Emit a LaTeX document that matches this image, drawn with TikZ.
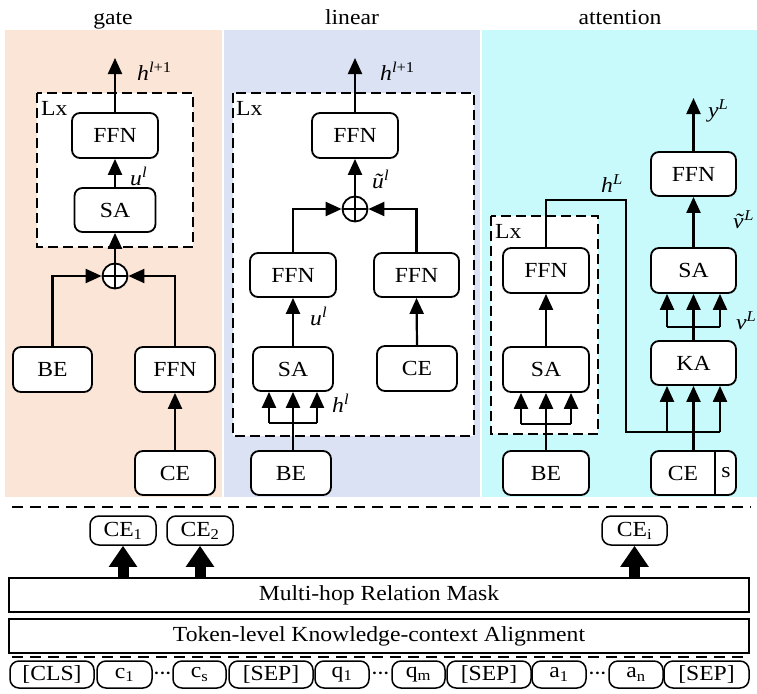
\documentclass[tikz,border=0pt]{standalone}
\usepackage{fontspec}
\setmainfont[FakeStretch=1.1]{Liberation Serif}
\usetikzlibrary{arrows.meta,calc}
\definecolor{gatebg}{RGB}{251,229,214}
\definecolor{linbg}{RGB}{218,226,243}
\definecolor{attbg}{RGB}{200,250,252}
\begin{document}
\begin{tikzpicture}[x=1pt,y=-1pt,
 font=\fontsize{21.5}{24}\selectfont,
 blk/.style={draw,line width=1.8pt,rounded corners=8pt,fill=white,inner sep=0pt},
 ln/.style={line width=2.2pt},
 arr/.style={line width=2.2pt,-{Triangle[width=14pt,length=16pt]}},
 lxbox/.style={draw,line width=2pt,dash pattern=on 10pt off 5pt,fill=white},
 oplus/.style={draw,line width=1.8pt,circle,fill=white,minimum size=25pt,inner sep=0pt,
   path picture={\draw[line width=1.5pt] (path picture bounding box.north) -- (path picture bounding box.south) (path picture bounding box.west) -- (path picture bounding box.east);}},
 tok/.style={draw,line width=1.5pt,rounded corners=9pt,inner sep=0pt,minimum height=27pt},
 lab/.style={inner sep=0pt},
 fat/.style={line width=11pt,-{Triangle[width=27pt,length=21pt]}},
 sep/.style={line width=1.3pt,dash pattern=on 11pt off 7pt},
]
\useasboundingbox (0,0) rectangle (757,693);
% panels
\fill[gatebg] (5,30) rectangle (222,497);
\fill[linbg] (224,30) rectangle (480,497);
\fill[attbg] (482,30) rectangle (757,497);
\node[lab,anchor=base] (t_gate) at (113,25) {gate};
\node[lab,anchor=base] (t_lin) at (352,25) {linear};
\node[lab,anchor=base] (t_att) at (620,25) {attention};

% ---------------- gate
\draw[lxbox] (37,93) rectangle (193,247);
\node[lab,anchor=base west] (g_lxt) at (41,115) {Lx};
\node[blk,minimum width=86pt,minimum height=45pt] (g_ffn) at (115,135.5) {FFN};
\node[blk,minimum width=81pt,minimum height=44pt] (g_sa) at (115,210) {SA};
\node[oplus] (g_plus) at (115,276) {};
\node[blk,minimum width=79pt,minimum height=45pt] (g_be) at (52.5,369.5) {BE};
\node[blk,minimum width=80pt,minimum height=45pt] (g_ffn2) at (175,369.5) {FFN};
\node[blk,minimum width=80pt,minimum height=44pt] (g_ce) at (175,473) {CE};
\coordinate (g_top) at (115,58);
\draw[arr] (g_ffn.north) -- (g_top);
\draw[arr] (g_sa.north) -- (g_ffn.south);
\draw[arr] (g_plus.north) -- (g_sa.south);
\draw[arr] (g_be.north) |- (g_plus.west);
\draw[arr] (g_ffn2.north) |- (g_plus.east);
\draw[arr] (g_ce.north) -- (g_ffn2.south);
\node[lab,anchor=base west] (g_h) at (137,80) {\textit{h}\textsuperscript{\textit{l}+1}};
\node[lab,anchor=base west] (g_u) at (130,185) {\textit{u}\textsuperscript{\textit{l}}};

% ---------------- linear
\draw[lxbox] (233,93) rectangle (474,436);
\node[lab,anchor=base west] (l_lxt) at (236,115) {Lx};
\node[blk,minimum width=86pt,minimum height=45pt] (l_ffn) at (355,135.5) {FFN};
\node[oplus] (l_plus) at (355,209) {};
\node[blk,minimum width=86pt,minimum height=44pt] (l_ffnL) at (293,275) {FFN};
\node[blk,minimum width=85pt,minimum height=44pt] (l_ffnR) at (416.5,275) {FFN};
\node[blk,minimum width=80pt,minimum height=44pt] (l_sa) at (293,369) {SA};
\node[blk,minimum width=80pt,minimum height=45pt] (l_ce) at (417,368.5) {CE};
\node[blk,minimum width=80pt,minimum height=44pt] (l_be) at (291,473) {BE};
\coordinate (l_top) at (355,58);
\coordinate (l_bar) at (293,423);
\draw[arr] (l_ffn.north) -- (l_top);
\draw[arr] (l_plus.north) -- (l_ffn.south);
\draw[arr] (l_ffnL.north) |- (l_plus.west);
\draw[arr] (l_ffnR.north) |- (l_plus.east);
\draw[arr] (l_sa.north) -- (l_ffnL.south);
\draw[arr] (l_ce.north) -- (l_ffnR.south);
\draw[ln] (l_be.north -| l_bar) -- (l_bar);
\draw[ln] ([xshift=-24pt]l_bar) -- ([xshift=24pt]l_bar);
\foreach \dx in {-24,0,24}
  \draw[arr] ([xshift=\dx pt]l_bar) -- ([xshift=\dx pt]l_sa.south);
\node[lab,anchor=base west] (l_h) at (380,80) {\textit{h}\textsuperscript{\textit{l}+1}};
\node[lab,anchor=base west] (l_ut) at (372,188) {\textit{\~u}\textsuperscript{\textit{l}}};
\node[lab,anchor=base west] (l_u) at (310,325) {\textit{u}\textsuperscript{\textit{l}}};
\node[lab,anchor=base west] (l_hl) at (332,412) {\textit{h}\textsuperscript{\textit{l}}};

% ---------------- attention
\draw[lxbox] (491,216) rectangle (598,434);
\node[lab,anchor=base west] (a_lxt) at (495,238) {Lx};
\node[blk,minimum width=86pt,minimum height=45pt] (a_ffn) at (546,270.5) {FFN};
\node[blk,minimum width=86pt,minimum height=45pt] (a_sa) at (546,369.5) {SA};
\node[blk,minimum width=86pt,minimum height=44pt] (a_be) at (546,473) {BE};
\node[blk,minimum width=85pt,minimum height=44pt] (a_ffn2) at (693.5,174) {FFN};
\node[blk,minimum width=85pt,minimum height=45pt] (a_sa2) at (693.5,270.5) {SA};
\node[blk,minimum width=85pt,minimum height=44pt] (a_ka) at (693.5,363) {KA};
\node[blk,minimum width=85pt,minimum height=44pt] (a_ce) at (693.5,473) {};
\node[lab] (a_cet) at (683,473) {CE};
\node[lab] (a_s) at (726,473) {s};
\coordinate (a_div) at (715,473);
\draw[line width=1.8pt] (a_div |- a_ce.north) -- (a_div |- a_ce.south);
\coordinate (a_top) at (693.5,98);
\coordinate (a_bar1) at (546,424);
\coordinate (a_bar2) at (693.5,327);
\coordinate (a_bar3) at (693.5,432);
\coordinate (a_hc1) at (626,200);
\coordinate (a_hc2) at (626,432);
\draw[arr] (a_ffn2.north) -- (a_top);
\draw[arr] (a_sa2.north) -- (a_ffn2.south);
\draw[arr] (a_sa.north) -- (a_ffn.south);
\draw[ln] (a_be.north) -- (a_bar1);
\draw[ln] ([xshift=-25pt]a_bar1) -- ([xshift=25pt]a_bar1);
\foreach \dx in {-25,0,25}
  \draw[arr] ([xshift=\dx pt]a_bar1) -- ([xshift=\dx pt]a_sa.south);
\draw[ln] (a_ka.north) -- (a_bar2);
\draw[ln] ([xshift=-26.5pt]a_bar2) -- ([xshift=26.5pt]a_bar2);
\foreach \dx in {-26.5,0,26.5}
  \draw[arr] ([xshift=\dx pt]a_bar2) -- ([xshift=\dx pt]a_sa2.south);
\draw[ln] (a_ffn.north) |- (a_hc1) -- (a_hc2) -- ([xshift=26.5pt]a_bar3);
\draw[ln] (a_ce.north) -- (a_bar3);
\foreach \dx in {-26.5,0,26.5}
  \draw[arr] ([xshift=\dx pt]a_bar3) -- ([xshift=\dx pt]a_ka.south);
\node[lab,anchor=base west] (a_h) at (601,192) {\textit{h}\textsuperscript{\textit{L}}};
\node[lab,anchor=base west] (a_y) at (708,117) {\textit{y}\textsuperscript{\textit{L}}};
\node[lab,anchor=base west] (a_vt) at (733,228) {\textit{\~v}\textsuperscript{\textit{L}}};
\node[lab,anchor=base west] (a_v) at (736,329) {\textit{v}\textsuperscript{\textit{L}}};

% ---------------- bottom
\draw[sep] (12,507) -- (751,507);
\node[tok,minimum width=66pt,minimum height=29pt] (ce1) at (123,530.5) {CE\textsubscript{1}};
\node[tok,minimum width=66pt,minimum height=29pt] (ce2) at (200,530.5) {CE\textsubscript{2}};
\node[tok,minimum width=65pt,minimum height=29pt] (cei) at (634.5,530.5) {CE\textsubscript{i}};
\node[draw,line width=1.8pt,minimum width=740pt,minimum height=34pt,inner sep=0pt] (mh) at (379,595) {Multi-hop Relation Mask};
\node[draw,line width=1.8pt,minimum width=740pt,minimum height=34pt,inner sep=0pt] (tk) at (379,636) {Token-level Knowledge-context Alignment};
\draw[fat] (mh.north -| ce1) -- (ce1.south);
\draw[fat] (mh.north -| ce2) -- (ce2.south);
\draw[fat] (mh.north -| cei) -- (cei.south);
\draw[sep] (12,657) -- (748,657);
\node[tok,minimum width=84pt] (k1) at (52,674.5) {[CLS]};
\node[tok,minimum width=55pt] (k2) at (124.5,674.5) {c\textsubscript{1}};
\node[lab] (k3) at (162.5,676) {·\kern-2pt·\kern-2pt·};
\node[tok,minimum width=53pt] (k4) at (199.5,674.5) {c\textsubscript{s}};
\node[tok,minimum width=84pt] (k5) at (271,674.5) {[SEP]};
\node[tok,minimum width=54pt] (k6) at (342,674.5) {q\textsubscript{1}};
\node[lab] (k7) at (380.5,676) {·\kern-2pt·\kern-2pt·};
\node[tok,minimum width=53pt] (k8) at (418.5,674.5) {q\textsubscript{m}};
\node[tok,minimum width=84pt] (k9) at (489,674.5) {[SEP]};
\node[tok,minimum width=54pt] (k10) at (559,674.5) {a\textsubscript{1}};
\node[lab] (k11) at (597.5,676) {·\kern-2pt·\kern-2pt·};
\node[tok,minimum width=54pt] (k12) at (636,674.5) {a\textsubscript{n}};
\node[tok,minimum width=85pt] (k13) at (706.5,674.5) {[SEP]};
\end{tikzpicture}
\end{document}
